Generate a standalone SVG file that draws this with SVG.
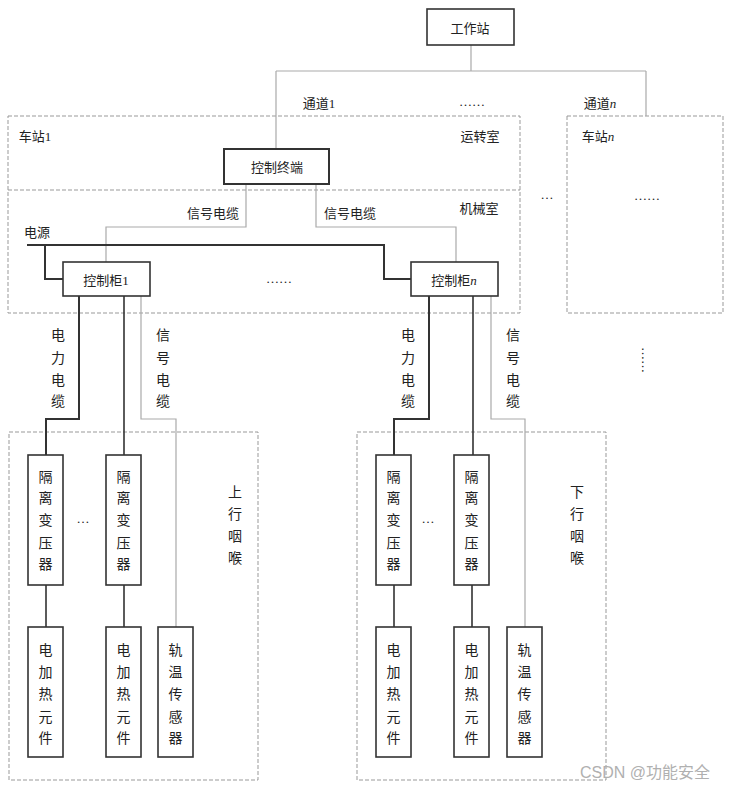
<svg xmlns="http://www.w3.org/2000/svg" width="731" height="790" viewBox="0 0 731 790">
<style>
text{font-family:"Liberation Serif","Noto Sans CJK SC",serif;font-size:13px;fill:#222;}
.v{font-size:14px;text-anchor:middle;dominant-baseline:central;}
.c{text-anchor:middle;dominant-baseline:central;}
.box{fill:#fff;stroke:#333;stroke-width:1.6;}
.zone{fill:none;stroke:#999;stroke-width:1;stroke-dasharray:4,2;}
.sig{fill:none;stroke:#aaa;stroke-width:1.2;}
.pwr{fill:none;stroke:#333;stroke-width:2;}
.ln{fill:none;stroke:#333;stroke-width:1.6;}
.it{font-style:italic;}
</style>
<rect width="731" height="790" fill="#fff"/>
<g id="zones">
<rect class="zone" x="8" y="116" width="512" height="197"/>
<line class="zone" x1="8" y1="190" x2="520" y2="190"/>
<rect class="zone" x="567" y="116" width="156" height="197"/>
<rect class="zone" x="9" y="432" width="249" height="348"/>
<rect class="zone" x="357" y="432" width="249" height="348"/>
</g>
<g id="connectors">
<path class="sig" d="M471,45V71M276,71H646M276,71V149M646,71V116"/>
<path class="sig" d="M246,184V227H106V262M316,184V227H456V262"/>
<path class="pwr" d="M27,245H384V279H411M45,245V279H63"/>
<path class="pwr" d="M79,296V419H46V455"/>
<path class="ln" d="M124,296V455"/>
<path class="sig" d="M141,296V419H176V627"/>
<path class="pwr" d="M429,296V419H394V455"/>
<path class="ln" d="M473,296V455"/>
<path class="sig" d="M491,296V419H525V627"/>
<path class="ln" d="M46,585V627M124,585V627M394,585V627M472,585V627"/>
</g>
<g id="workstation"><rect class="box" x="427" y="9" width="87" height="36"/><text class="c" x="470" y="28">工作站</text></g>
<g id="terminal"><rect class="box" x="224" y="149" width="105" height="35" style="stroke-width:2"/><text class="c" x="277" y="167">控制终端</text></g>
<g id="cab1"><rect class="box" x="63" y="262" width="87" height="34"/><text class="c" x="106" y="280">控制柜1</text></g>
<g id="cabn"><rect class="box" x="411" y="262" width="87" height="34"/><text class="c" x="454" y="280">控制柜<tspan class="it">n</tspan></text></g>
<g id="tf1"><rect class="box" x="28" y="455" width="35" height="130"/><text class="v" x="45.5" y="477">隔</text><text class="v" x="45.5" y="498">离</text><text class="v" x="45.5" y="520">变</text><text class="v" x="45.5" y="543">压</text><text class="v" x="45.5" y="564">器</text></g>
<g id="tf2"><rect class="box" x="106" y="455" width="35" height="130"/><text class="v" x="123.5" y="477">隔</text><text class="v" x="123.5" y="498">离</text><text class="v" x="123.5" y="520">变</text><text class="v" x="123.5" y="543">压</text><text class="v" x="123.5" y="564">器</text></g>
<g id="tf3"><rect class="box" x="376" y="455" width="35" height="130"/><text class="v" x="393.5" y="477">隔</text><text class="v" x="393.5" y="498">离</text><text class="v" x="393.5" y="520">变</text><text class="v" x="393.5" y="543">压</text><text class="v" x="393.5" y="564">器</text></g>
<g id="tf4"><rect class="box" x="454" y="455" width="35" height="130"/><text class="v" x="471.5" y="477">隔</text><text class="v" x="471.5" y="498">离</text><text class="v" x="471.5" y="520">变</text><text class="v" x="471.5" y="543">压</text><text class="v" x="471.5" y="564">器</text></g>
<g id="ht1"><rect class="box" x="28" y="627" width="35" height="130"/><text class="v" x="45.5" y="650">电</text><text class="v" x="45.5" y="672">加</text><text class="v" x="45.5" y="694">热</text><text class="v" x="45.5" y="717">元</text><text class="v" x="45.5" y="738">件</text></g>
<g id="ht2"><rect class="box" x="106" y="627" width="35" height="130"/><text class="v" x="123.5" y="650">电</text><text class="v" x="123.5" y="672">加</text><text class="v" x="123.5" y="694">热</text><text class="v" x="123.5" y="717">元</text><text class="v" x="123.5" y="738">件</text></g>
<g id="sn1"><rect class="box" x="158" y="627" width="35" height="130"/><text class="v" x="175.5" y="650">轨</text><text class="v" x="175.5" y="672">温</text><text class="v" x="175.5" y="694">传</text><text class="v" x="175.5" y="717">感</text><text class="v" x="175.5" y="738">器</text></g>
<g id="ht3"><rect class="box" x="376" y="627" width="35" height="130"/><text class="v" x="393.5" y="650">电</text><text class="v" x="393.5" y="672">加</text><text class="v" x="393.5" y="694">热</text><text class="v" x="393.5" y="717">元</text><text class="v" x="393.5" y="738">件</text></g>
<g id="ht4"><rect class="box" x="454" y="627" width="35" height="130"/><text class="v" x="471.5" y="650">电</text><text class="v" x="471.5" y="672">加</text><text class="v" x="471.5" y="694">热</text><text class="v" x="471.5" y="717">元</text><text class="v" x="471.5" y="738">件</text></g>
<g id="sn2"><rect class="box" x="507" y="627" width="35" height="130"/><text class="v" x="524.5" y="650">轨</text><text class="v" x="524.5" y="672">温</text><text class="v" x="524.5" y="694">传</text><text class="v" x="524.5" y="717">感</text><text class="v" x="524.5" y="738">器</text></g>
<g id="labels">
<text class="c" x="319" y="103">通道1</text>
<text class="c" x="472" y="101">……</text>
<text class="c" x="600" y="103">通道<tspan class="it">n</tspan></text>
<text class="c" x="35" y="136">车站1</text>
<text class="c" x="480" y="136">运转室</text>
<text class="c" x="598" y="136">车站<tspan class="it">n</tspan></text>
<text class="c" x="213" y="213">信号电缆</text>
<text class="c" x="350" y="213">信号电缆</text>
<text class="c" x="479" y="208">机械室</text>
<text class="c" x="37" y="232">电源</text>
<text class="c" x="279" y="278">……</text>
<text class="c" x="547" y="194">…</text>
<text class="c" x="647" y="195">……</text>
<text class="c" x="646" y="360" transform="rotate(90 646 360)">……</text>
<text class="v" x="58" y="335">电</text><text class="v" x="58" y="358">力</text><text class="v" x="58" y="380">电</text><text class="v" x="58" y="401">缆</text>
<text class="v" x="163" y="335">信</text><text class="v" x="163" y="358">号</text><text class="v" x="163" y="380">电</text><text class="v" x="163" y="401">缆</text>
<text class="v" x="408" y="335">电</text><text class="v" x="408" y="358">力</text><text class="v" x="408" y="380">电</text><text class="v" x="408" y="401">缆</text>
<text class="v" x="513" y="335">信</text><text class="v" x="513" y="358">号</text><text class="v" x="513" y="380">电</text><text class="v" x="513" y="401">缆</text>
<text class="c" x="83" y="518">…</text>
<text class="c" x="428" y="518">…</text>
<text class="v" x="235" y="492">上</text><text class="v" x="235" y="514">行</text><text class="v" x="235" y="536">咽</text><text class="v" x="235" y="558">喉</text>
<text class="v" x="577" y="492">下</text><text class="v" x="577" y="514">行</text><text class="v" x="577" y="536">咽</text><text class="v" x="577" y="558">喉</text>
<text x="580" y="778" style="font-family:'Liberation Sans','Noto Sans CJK SC',sans-serif;font-size:16px;fill:#b0b0b0">CSDN @功能安全</text>
</g>
</svg>
